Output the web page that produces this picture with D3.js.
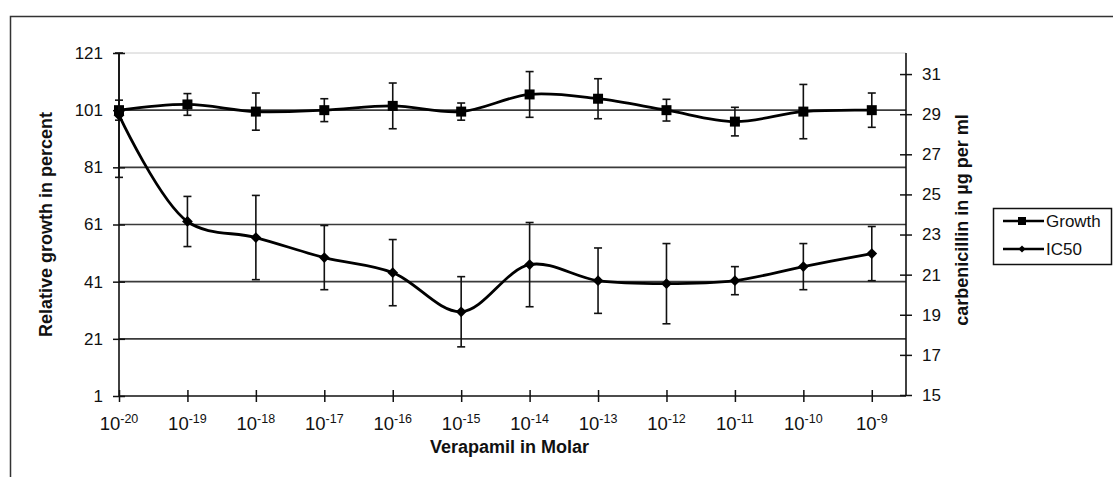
<!DOCTYPE html>
<html>
<head>
<meta charset="utf-8">
<script src="https://cdn.jsdelivr.net/npm/d3@7"></script>
<style>
  body { margin: 0; background: #fff; }
  text { font-family: "Liberation Sans", Arial, sans-serif; fill: #111; }
</style>
</head>
<body>
<div id="chart"></div>
<script>
// data
var exponents = [-20, -19, -18, -17, -16, -15, -14, -13, -12, -11, -10, -9];
var growth    = [101, 103, 100.5, 101, 102.5, 100.5, 106.5, 105, 101, 97, 100.5, 101];
var growthErr = [3.5, 3.8, 6.5, 4, 8, 3, 8, 7, 3.8, 5, 9.5, 6];
var ic50      = [28.95, 23.65, 22.85, 21.85, 21.1, 19.15, 21.5, 20.7, 20.55, 20.7, 21.4, 22.05];
var ic50Err   = [3.1, 1.25, 2.1, 1.6, 1.65, 1.75, 2.1, 1.63, 2.0, 0.7, 1.15, 1.35];
var leftTicks  = [1, 21, 41, 61, 81, 101, 121];
var rightTicks = [15, 17, 19, 21, 23, 25, 27, 29, 31];
var seriesNames = ["Growth", "IC50"];

var W = 1113, H = 477;
var plot = {left: 119, right: 906, top: 53, bottom: 396};

var svg = d3.select("#chart").append("svg")
    .attr("width", W)
    .attr("height", H);

// outer frame (top and left edges visible)
svg.append("path")
    .attr("d", `M10.5,${H} L10.5,16.5 L${W},16.5`)
    .attr("fill", "none")
    .attr("stroke", "#333")
    .attr("stroke-width", 1.5);

var x = d3.scaleLinear().domain([-20, -8.5]).range([plot.left, plot.right]);
var yL = d3.scaleLinear().domain([1, 121]).range([plot.bottom, plot.top]);
var yR = d3.scaleLinear().domain([15, 32.05]).range([plot.bottom - 1, plot.top]);

// gridlines
svg.append("g").selectAll("line")
    .data(leftTicks.filter(d => d > 1))
    .enter().append("line")
    .attr("x1", plot.left).attr("x2", plot.right)
    .attr("y1", d => yL(d)).attr("y2", d => yL(d))
    .attr("stroke", d => d === 121 ? "#ccc" : "#3a3a3a")
    .attr("stroke-width", d => d === 121 ? 1 : 1.6);

// left axis
var gl = svg.append("g").attr("transform", `translate(${plot.left},0)`)
    .call(d3.axisLeft(yL).tickValues(leftTicks).tickSize(6).tickPadding(10));
gl.selectAll(".tick line").attr("x1", 6).attr("stroke", "#111").attr("stroke-width", 1.5);
gl.select(".domain").attr("stroke", "#111").attr("stroke-width", 1.6).attr("d", `M0,${plot.top}V${plot.bottom}`);
gl.selectAll("text").style("font-size", "17px").attr("fill", "#111");

// right axis
var gr = svg.append("g").attr("transform", `translate(${plot.right},0)`)
    .call(d3.axisRight(yR).tickValues(rightTicks).tickSize(6).tickPadding(10));
gr.selectAll(".tick line").attr("x1", -6).attr("stroke", "#111").attr("stroke-width", 1.5);
gr.select(".domain").attr("stroke", "#111").attr("stroke-width", 1.6).attr("d", `M0,${plot.top}V${plot.bottom}`);
gr.selectAll("text").style("font-size", "17px").attr("fill", "#111");

// bottom axis
var gb = svg.append("g").attr("transform", `translate(0,${plot.bottom})`)
    .call(d3.axisBottom(x).tickValues(exponents).tickSize(6).tickFormat(""));
gb.selectAll(".tick line").attr("y1", -6).attr("stroke", "#111").attr("stroke-width", 1.5);
gb.select(".domain").attr("stroke", "#111").attr("stroke-width", 1.6).attr("d", `M${plot.left},0H${plot.right}`);

// x tick labels 10^n
var xl = svg.append("g").selectAll("text")
    .data(exponents)
    .enter().append("text")
    .attr("x", d => x(d))
    .attr("y", 430)
    .attr("text-anchor", "middle");
xl.append("tspan").style("font-size", "18.5px").text("10");
xl.append("tspan").style("font-size", "12.5px").attr("dy", -7).text(d => d);

// axis titles
svg.append("text")
    .attr("x", (plot.left + plot.right) / 2 - 3)
    .attr("y", 453)
    .attr("text-anchor", "middle")
    .style("font-size", "18px").style("font-weight", "bold")
    .text("Verapamil in Molar");

svg.append("text")
    .attr("transform", `translate(52,${(plot.top + plot.bottom) / 2}) rotate(-90)`)
    .attr("text-anchor", "middle")
    .style("font-size", "18px").style("font-weight", "bold")
    .text("Relative growth in percent");

svg.append("text")
    .attr("transform", `translate(968,220) rotate(-90)`)
    .attr("text-anchor", "middle")
    .style("font-size", "18px").style("font-weight", "bold")
    .text("carbenicillin in µg per ml");

var line = d3.line().curve(d3.curveCatmullRom.alpha(0.5));

function drawSeries(vals, errs, yScale, shape) {
    var g = svg.append("g");
    // error bars
    exponents.forEach(function(e, i) {
        var cx = x(e), top = yScale(vals[i] + errs[i]), bot = yScale(vals[i] - errs[i]);
        g.append("line").attr("x1", cx).attr("x2", cx).attr("y1", top).attr("y2", bot)
            .attr("stroke", "#111").attr("stroke-width", 1.6);
        [top, bot].forEach(function(yy) {
            g.append("line").attr("x1", cx - 4).attr("x2", cx + 4).attr("y1", yy).attr("y2", yy)
                .attr("stroke", "#111").attr("stroke-width", 1.6);
        });
    });
    // smoothed line
    g.append("path")
        .attr("d", line(exponents.map((e, i) => [x(e), yScale(vals[i])])))
        .attr("fill", "none")
        .attr("stroke", "#000")
        .attr("stroke-width", 2.8);
    // markers
    g.selectAll("path.m")
        .data(exponents)
        .enter().append("path")
        .attr("class", "m")
        .attr("transform", (e, i) => `translate(${x(e)},${yScale(vals[i])})${shape === "diamond" ? " rotate(45)" : ""}`)
        .attr("d", shape === "diamond" ? "M-3.8,-3.8H3.8V3.8H-3.8Z" : "M-5,-5H5V5H-5Z")
        .attr("fill", "#000");
}

drawSeries(growth, growthErr, yL, "square");
drawSeries(ic50, ic50Err, yR, "diamond");

// legend
var lg = svg.append("g");
lg.append("rect")
    .attr("x", 993.5).attr("y", 208.5)
    .attr("width", 118).attr("height", 56)
    .attr("fill", "#fff").attr("stroke", "#111").attr("stroke-width", 1.5);
seriesNames.forEach(function(name, i) {
    var yy = 221 + i * 28;
    lg.append("line").attr("x1", 1003).attr("x2", 1044).attr("y1", yy).attr("y2", yy)
        .attr("stroke", "#000").attr("stroke-width", 2.5);
    lg.append("path")
        .attr("transform", `translate(1022,${yy})${i === 1 ? " rotate(45)" : ""}`)
        .attr("d", i === 1 ? "M-2.5,-2.5H2.5V2.5H-2.5Z" : "M-4,-4H4V4H-4Z")
        .attr("fill", "#000");
    lg.append("text").attr("x", 1046).attr("y", yy + 6)
        .style("font-size", "17px").text(name);
});
</script>
</body>
</html>
